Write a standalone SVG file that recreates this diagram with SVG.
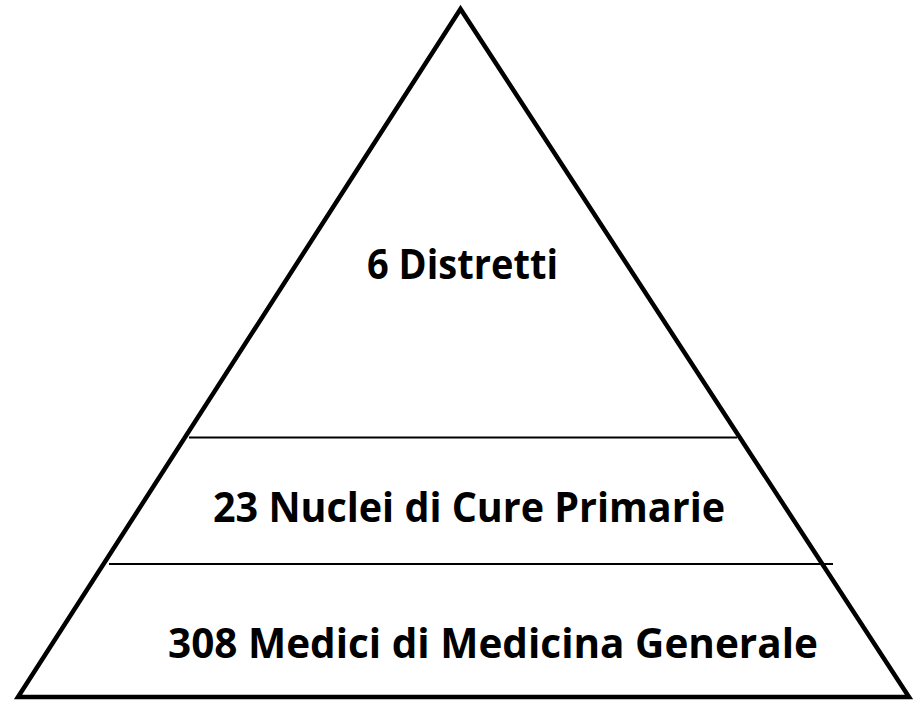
<svg xmlns="http://www.w3.org/2000/svg" width="916" height="703" viewBox="0 0 916 703">
<style>
.tri{fill:none;stroke:#000;stroke-width:4.5;stroke-linejoin:miter}
.div{stroke:#000;stroke-width:2}
.lbl{font-family:"Open Sans","Liberation Sans",sans-serif;font-weight:bold;fill:#000;font-size:42px}
</style>
<rect width="916" height="703" fill="#fff"/>
<g id="pyramid">
<polygon class="tri" points="460.5,9 18,697 909,697"/>
</g>
<g id="connectors">
<line class="div" x1="189" y1="437.5" x2="737" y2="437.5"/>
<line class="div" x1="109" y1="564" x2="833" y2="564"/>
</g>
<g id="level-top">
<text class="lbl" x="367" y="279" textLength="191" lengthAdjust="spacingAndGlyphs">6 Distretti</text>
</g>
<g id="level-middle">
<text class="lbl" x="213" y="522" textLength="512" lengthAdjust="spacingAndGlyphs">23 Nuclei di Cure Primarie</text>
</g>
<g id="level-bottom">
<text class="lbl" x="168" y="658" textLength="650" lengthAdjust="spacingAndGlyphs">308 Medici di Medicina Generale</text>
</g>
</svg>
